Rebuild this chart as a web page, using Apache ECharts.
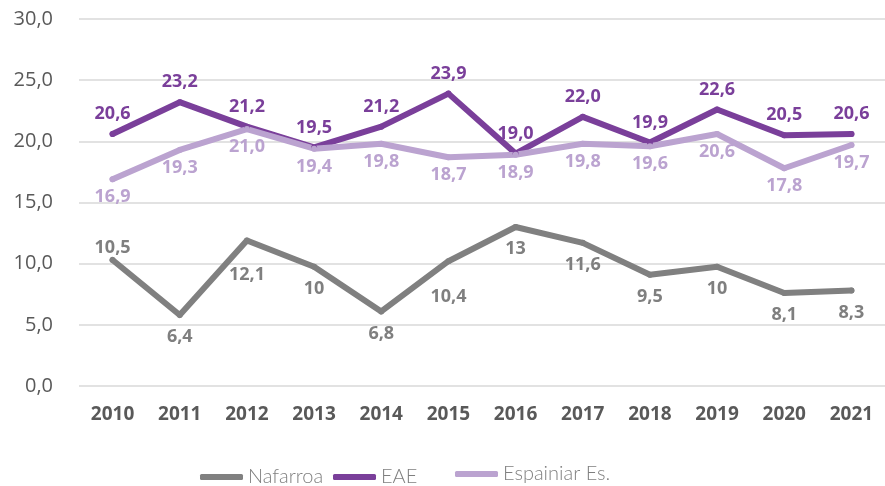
<!DOCTYPE html>
<html>
<head>
<meta charset="utf-8">
<script src="https://cdn.jsdelivr.net/npm/echarts@6/dist/echarts.min.js"></script>
<style>
html,body{margin:0;padding:0;background:#fff;}
#chart{width:885px;height:486px;}
</style>
</head>
<body>
<div id="chart"></div>
<script>
const years = ['2010','2011','2012','2013','2014','2015','2016','2017','2018','2019','2020','2021'];
const nafarroa = [10.3, 5.8, 11.9, 9.75, 6.1, 10.2, 13.0, 11.7, 9.1, 9.75, 7.6, 7.8];
const nafarroaLabels = ['10,5','6,4','12,1','10','6,8','10,4','13','11,6','9,5','10','8,1','8,3'];
const eae = [20.6, 23.2, 21.2, 19.5, 21.2, 23.9, 19.0, 22.0, 19.9, 22.6, 20.5, 20.6];
const espainia = [16.9, 19.3, 21.0, 19.4, 19.8, 18.7, 18.9, 19.8, 19.6, 20.6, 17.8, 19.7];
const seriesNames = ['Nafarroa', 'EAE', 'Espainiar Es.'];
const yTicks = {min: 0, max: 30, interval: 5};

const C_GRAY = '#808080', C_PURPLE = '#7a3f9a', C_LAV = '#bba3d0';
const fmt = v => v.toFixed(1).replace('.', ',');
const FONT = '"Open Sans", "Noto Sans", sans-serif';

const chart = echarts.init(document.getElementById('chart'), null, {renderer: 'canvas'});

function legend(name, left, top) {
  return {
    data: [name], left: left, top: top,
    icon: 'roundRect', itemWidth: 43, itemHeight: 6, itemGap: 8,
    textStyle: {fontFamily: 'Lato, "Open Sans", sans-serif', fontWeight: 300, fontSize: 20, color: '#7f7f7f'}
  };
}

function lineSeries(name, data, color, labelCfg) {
  return {
    name: name, type: 'line', data: data,
    symbol: 'circle', symbolSize: 6, showSymbol: true,
    itemStyle: {color: color},
    lineStyle: {color: color, width: 6, cap: 'round', join: 'round'},
    label: Object.assign({show: true, fontFamily: FONT, fontWeight: 'bold', fontSize: 18}, labelCfg),
    emphasis: {disabled: true},
    animation: false
  };
}

// label placement tweaks for the Nafarroa series (layout only)
function nafarroaItem(v, i) {
  if (i === 0) return {value: v, label: {position: 'top', distance: 0}};
  if (i === 2) return {value: v, label: {distance: 22}};
  if (i === 5) return {value: v, label: {distance: 24}};
  return v;
}

chart.setOption({
  backgroundColor: '#fff',
  animation: false,
  grid: {left: 79, top: 19, width: 822, height: 367, containLabel: false},
  legend: [legend(seriesNames[0], 195, 462), legend(seriesNames[1], 328, 462), legend(seriesNames[2], 450, 459)],
  xAxis: {
    type: 'category', data: years, boundaryGap: true,
    axisLine: {show: false}, axisTick: {show: false},
    axisLabel: {fontFamily: FONT, fontWeight: 'bold', fontSize: 19, color: '#595959', margin: 19}
  },
  yAxis: {
    type: 'value', min: yTicks.min, max: yTicks.max, interval: yTicks.interval,
    axisLine: {show: false}, axisTick: {show: false},
    axisLabel: {fontFamily: FONT, fontSize: 20, color: '#595959', margin: 26, formatter: v => fmt(v)},
    splitLine: {lineStyle: {color: '#d9d9d9', width: 1.5}}
  },
  series: [
    lineSeries(seriesNames[0], nafarroa.map(nafarroaItem), C_GRAY,
      {position: 'bottom', distance: 10, color: '#7f7f7f', formatter: p => nafarroaLabels[p.dataIndex]}),
    lineSeries(seriesNames[1], eae, C_PURPLE,
      {position: 'top', distance: 8, color: C_PURPLE, formatter: p => fmt(p.value)}),
    lineSeries(seriesNames[2], espainia, C_LAV,
      {position: 'bottom', distance: 6, color: C_LAV, formatter: p => fmt(p.value)})
  ]
});
</script>
</body>
</html>
